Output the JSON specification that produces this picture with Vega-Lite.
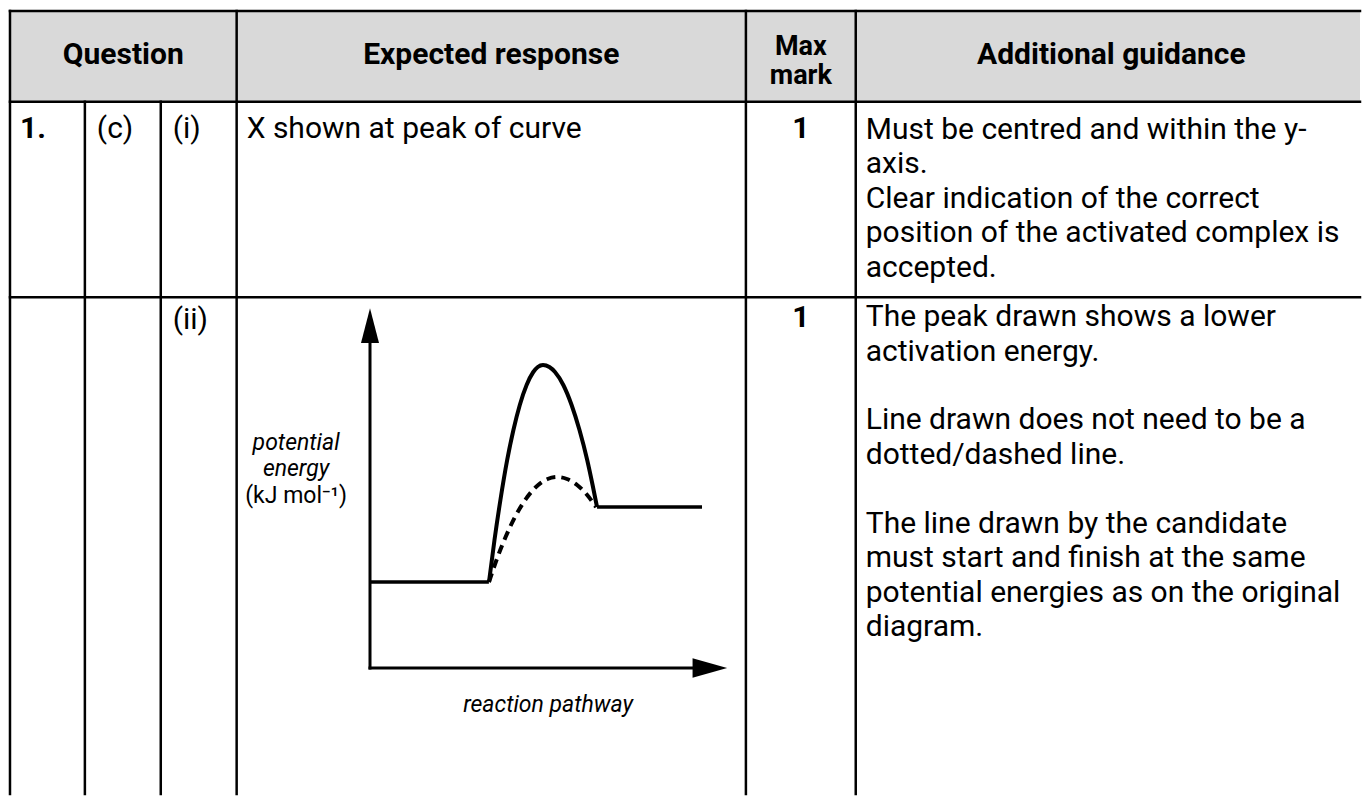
{
  "$schema": "https://vega.github.io/schema/vega-lite/v6.json",
  "width": 1362,
  "height": 796,
  "autosize": {"type": "fit", "contains": "padding"},
  "padding": 0,
  "background": "white",
  "config": {
    "view": {"stroke": null},
    "text": {"font": "Roboto", "color": "#000000", "lineBreak": "\n"}
  },
  "datasets": {
    "headerFill": [{"x": 10, "x2": 1362, "y": 11, "y2": 102}],
    "gridLines": [
      {"x": 10, "y": 11, "x2": 1362, "y2": 11},
      {"x": 10, "y": 102, "x2": 1362, "y2": 102},
      {"x": 10, "y": 298, "x2": 1362, "y2": 298},
      {"x": 10, "y": 11, "x2": 10, "y2": 796},
      {"x": 85, "y": 102, "x2": 85, "y2": 796},
      {"x": 161, "y": 102, "x2": 161, "y2": 796},
      {"x": 237, "y": 11, "x2": 237, "y2": 796},
      {"x": 747, "y": 11, "x2": 747, "y2": 796},
      {"x": 857, "y": 11, "x2": 857, "y2": 796}
    ],
    "cells": [
      {"kind": "header", "x": 123.5, "y": 64, "text": "Question"},
      {"kind": "header", "x": 492, "y": 64, "text": "Expected response"},
      {"kind": "header2", "x": 802, "y": 55, "text": "Max"},
      {"kind": "header2", "x": 802, "y": 84, "text": "mark"},
      {"kind": "header", "x": 1113, "y": 64, "text": "Additional guidance"},
      {"kind": "number", "x": 20, "y": 138, "text": "1."},
      {"kind": "body", "x": 97, "y": 138, "text": "(c)"},
      {"kind": "body", "x": 173, "y": 138, "text": "(i)"},
      {"kind": "body", "x": 247, "y": 138, "text": "X shown at peak of curve"},
      {"kind": "mark", "x": 802, "y": 138, "text": "1"},
      {"kind": "body", "x": 867, "y": 139, "text": "Must be centred and within the y-\naxis.\nClear indication of the correct\nposition of the activated complex is\naccepted."},
      {"kind": "body", "x": 173, "y": 330, "text": "(ii)"},
      {"kind": "mark", "x": 802, "y": 328, "text": "1"},
      {"kind": "body", "x": 867, "y": 327, "text": "The peak drawn shows a lower\nactivation energy."},
      {"kind": "body", "x": 867, "y": 430.5, "text": "Line drawn does not need to be a\ndotted/dashed line."},
      {"kind": "body", "x": 867, "y": 534, "text": "The line drawn by the candidate\nmust start and finish at the same\npotential energies as on the original\ndiagram."}
    ],
    "axesLines": [
      {"axis": "energy", "px": 0, "py": 0},
      {"axis": "energy", "px": 0, "py": 95},
      {"axis": "pathway", "px": 0, "py": 0},
      {"axis": "pathway", "px": 95, "py": 0}
    ],
    "arrowHeads": [
      {"dir": "up", "px": 0, "py": 95.1},
      {"dir": "right", "px": 95.2, "py": 0}
    ],
    "levels": [
      {"stage": "reactants", "px": 0, "py": 23.9},
      {"stage": "reactants", "px": 33.3, "py": 23.9},
      {"stage": "products", "px": 63.6, "py": 44.7},
      {"stage": "products", "px": 93, "py": 44.7}
    ],
    "profiles": [
      {"path": "uncatalysed", "px": 33.33, "py": 23.89},
      {"path": "uncatalysed", "px": 34.87, "py": 35.56},
      {"path": "uncatalysed", "px": 36.53, "py": 46.67},
      {"path": "uncatalysed", "px": 38.43, "py": 57.78},
      {"path": "uncatalysed", "px": 40.17, "py": 66.11},
      {"path": "uncatalysed", "px": 41.96, "py": 73.06},
      {"path": "uncatalysed", "px": 43.87, "py": 78.61},
      {"path": "uncatalysed", "px": 45.74, "py": 82.22},
      {"path": "uncatalysed", "px": 47.0, "py": 83.6},
      {"path": "uncatalysed", "px": 48.46, "py": 84.17},
      {"path": "uncatalysed", "px": 50.25, "py": 83.6},
      {"path": "uncatalysed", "px": 51.82, "py": 82.22},
      {"path": "uncatalysed", "px": 54.15, "py": 78.61},
      {"path": "uncatalysed", "px": 56.47, "py": 73.06},
      {"path": "uncatalysed", "px": 58.68, "py": 66.11},
      {"path": "uncatalysed", "px": 60.84, "py": 57.78},
      {"path": "uncatalysed", "px": 62.35, "py": 50.83},
      {"path": "uncatalysed", "px": 63.59, "py": 44.72},
      {"path": "catalysed", "px": 33.33, "py": 23.89},
      {"path": "catalysed", "px": 35.74, "py": 30.83},
      {"path": "catalysed", "px": 37.98, "py": 36.39},
      {"path": "catalysed", "px": 40.62, "py": 41.94},
      {"path": "catalysed", "px": 44.06, "py": 47.5},
      {"path": "catalysed", "px": 47.11, "py": 50.83},
      {"path": "catalysed", "px": 49.75, "py": 52.5},
      {"path": "catalysed", "px": 52.38, "py": 53.06},
      {"path": "catalysed", "px": 55.18, "py": 52.5},
      {"path": "catalysed", "px": 58.01, "py": 50.83},
      {"path": "catalysed", "px": 60.84, "py": 48.06},
      {"path": "catalysed", "px": 63.31, "py": 44.72}
    ],
    "labels": [
      {"role": "title", "px": -20.7, "py": 60.6, "text": "potential"},
      {"role": "title", "px": -20.7, "py": 53.3, "text": "energy"},
      {"role": "unit", "px": -20.7, "py": 45.8, "text": "(kJ mol⁻¹)"},
      {"role": "title", "px": 49.9, "py": -12.2, "text": "reaction pathway"}
    ]
  },
  "layer": [
    {
      "layer": [
        {
          "data": {"name": "headerFill"},
          "mark": {"type": "rect", "color": "#d9d9d9"},
          "encoding": {
            "x": {"field": "x", "type": "quantitative", "scale": {"domain": [0, 1362], "nice": false, "zero": false}, "axis": null},
            "x2": {"field": "x2"},
            "y": {"field": "y", "type": "quantitative", "scale": {"domain": [0, 796], "nice": false, "zero": false, "reverse": true}, "axis": null},
            "y2": {"field": "y2"}
          }
        },
        {
          "data": {"name": "gridLines"},
          "mark": {"type": "rule", "color": "#000000", "strokeWidth": 2.5, "strokeCap": "square"},
          "encoding": {
            "x": {"field": "x", "type": "quantitative", "axis": null},
            "x2": {"field": "x2"},
            "y": {"field": "y", "type": "quantitative", "axis": null},
            "y2": {"field": "y2"}
          }
        },
        {
          "data": {"name": "cells"},
          "transform": [{"filter": "datum.kind === 'header'"}],
          "mark": {"type": "text", "fontSize": 30, "fontWeight": "bold", "align": "center", "baseline": "alphabetic"},
          "encoding": {
            "x": {"field": "x", "type": "quantitative", "axis": null},
            "y": {"field": "y", "type": "quantitative", "axis": null},
            "text": {"field": "text"}
          }
        },
        {
          "data": {"name": "cells"},
          "transform": [{"filter": "datum.kind === 'header2'"}],
          "mark": {"type": "text", "fontSize": 27, "fontWeight": "bold", "align": "center", "baseline": "alphabetic"},
          "encoding": {
            "x": {"field": "x", "type": "quantitative", "axis": null},
            "y": {"field": "y", "type": "quantitative", "axis": null},
            "text": {"field": "text"}
          }
        },
        {
          "data": {"name": "cells"},
          "transform": [{"filter": "datum.kind === 'number'"}],
          "mark": {"type": "text", "fontSize": 30, "fontWeight": "bold", "align": "left", "baseline": "alphabetic"},
          "encoding": {
            "x": {"field": "x", "type": "quantitative", "axis": null},
            "y": {"field": "y", "type": "quantitative", "axis": null},
            "text": {"field": "text"}
          }
        },
        {
          "data": {"name": "cells"},
          "transform": [{"filter": "datum.kind === 'mark'"}],
          "mark": {"type": "text", "fontSize": 30, "fontWeight": "bold", "align": "center", "baseline": "alphabetic"},
          "encoding": {
            "x": {"field": "x", "type": "quantitative", "axis": null},
            "y": {"field": "y", "type": "quantitative", "axis": null},
            "text": {"field": "text"}
          }
        },
        {
          "data": {"name": "cells"},
          "transform": [{"filter": "datum.kind === 'body'"}],
          "mark": {"type": "text", "fontSize": 30, "align": "left", "baseline": "alphabetic", "lineHeight": 34.5},
          "encoding": {
            "x": {"field": "x", "type": "quantitative", "axis": null},
            "y": {"field": "y", "type": "quantitative", "axis": null},
            "text": {"field": "text"}
          }
        }
      ]
    },
    {
      "layer": [
        {
          "data": {"name": "axesLines"},
          "mark": {"type": "line", "color": "#000000", "strokeWidth": 3, "strokeCap": "square"},
          "encoding": {
            "x": {"field": "px", "type": "quantitative", "scale": {"domain": [0, 100], "range": [370, 727], "nice": false, "zero": false}, "axis": null},
            "y": {"field": "py", "type": "quantitative", "scale": {"domain": [0, 100], "range": [668, 308], "nice": false, "zero": false}, "axis": null},
            "detail": {"field": "axis"}
          }
        },
        {
          "data": {"name": "arrowHeads"},
          "mark": {"type": "point", "filled": true, "opacity": 1, "color": "#000000", "size": 1200, "strokeWidth": 0},
          "encoding": {
            "x": {"field": "px", "type": "quantitative", "axis": null},
            "y": {"field": "py", "type": "quantitative", "axis": null},
            "shape": {"field": "dir", "type": "nominal", "legend": null, "scale": {"domain": ["up", "right"], "range": ["M 0 -1 L 0.52 1 L -0.52 1 Z", "M 1 0 L -1 0.56 L -1 -0.56 Z"]}}
          }
        },
        {
          "data": {"name": "levels"},
          "mark": {"type": "line", "color": "#000000", "strokeWidth": 3.5},
          "encoding": {
            "x": {"field": "px", "type": "quantitative", "axis": null},
            "y": {"field": "py", "type": "quantitative", "axis": null},
            "detail": {"field": "stage"}
          }
        },
        {
          "data": {"name": "profiles"},
          "transform": [{"filter": "datum.path === 'uncatalysed'"}],
          "mark": {"type": "line", "color": "#000000", "strokeWidth": 4, "interpolate": "monotone"},
          "encoding": {
            "x": {"field": "px", "type": "quantitative", "axis": null},
            "y": {"field": "py", "type": "quantitative", "axis": null}
          }
        },
        {
          "data": {"name": "profiles"},
          "transform": [{"filter": "datum.path === 'catalysed'"}],
          "mark": {"type": "line", "color": "#000000", "strokeWidth": 4, "interpolate": "monotone", "strokeDash": [9, 6]},
          "encoding": {
            "x": {"field": "px", "type": "quantitative", "axis": null},
            "y": {"field": "py", "type": "quantitative", "axis": null}
          }
        },
        {
          "data": {"name": "labels"},
          "transform": [{"filter": "datum.role === 'title'"}],
          "mark": {"type": "text", "fontSize": 23, "fontStyle": "italic", "align": "center", "baseline": "alphabetic"},
          "encoding": {
            "x": {"field": "px", "type": "quantitative", "axis": null},
            "y": {"field": "py", "type": "quantitative", "axis": null},
            "text": {"field": "text"}
          }
        },
        {
          "data": {"name": "labels"},
          "transform": [{"filter": "datum.role === 'unit'"}],
          "mark": {"type": "text", "fontSize": 23, "align": "center", "baseline": "alphabetic"},
          "encoding": {
            "x": {"field": "px", "type": "quantitative", "axis": null},
            "y": {"field": "py", "type": "quantitative", "axis": null},
            "text": {"field": "text"}
          }
        }
      ]
    }
  ],
  "resolve": {"scale": {"x": "independent", "y": "independent", "shape": "independent"}}
}
